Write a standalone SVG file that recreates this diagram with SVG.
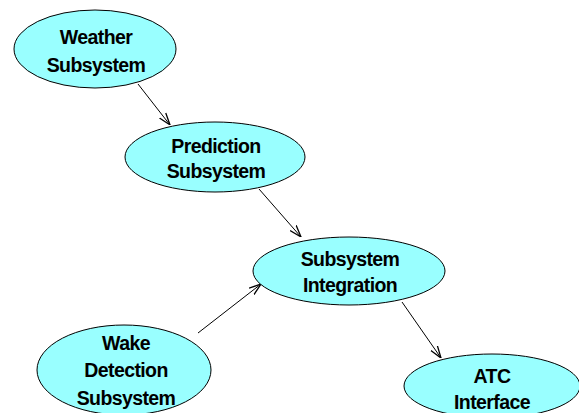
<svg xmlns="http://www.w3.org/2000/svg" width="579" height="413" viewBox="0 0 579 413">
<style>
.n ellipse{fill:#99ffff;stroke:#000;stroke-width:1}
.n text{font-family:"Liberation Sans",Arial,sans-serif;font-weight:bold;font-size:19.5px;text-anchor:middle;fill:#000;letter-spacing:-0.6px}
.c line{stroke:#000;stroke-width:1;marker-end:url(#ah)}
</style>
<defs>
<marker id="ah" markerWidth="12" markerHeight="10" refX="12" refY="5" orient="auto" markerUnits="userSpaceOnUse">
<path d="M0,1 L12,5 L0,9" fill="none" stroke="#000" stroke-width="1.3"/>
</marker>
</defs>
<rect width="579" height="413" fill="#fff"/>
<g class="c">
<line x1="138" y1="84" x2="170" y2="125"/>
<line x1="259" y1="189" x2="301" y2="237"/>
<line x1="198" y1="333" x2="261" y2="284"/>
<line x1="402" y1="302" x2="441" y2="358"/>
</g>
<g id="weather" class="n">
<ellipse cx="95" cy="49" rx="81" ry="39"/>
<text x="96" y="44">Weather</text>
<text x="96" y="72">Subsystem</text>
</g>
<g id="prediction" class="n">
<ellipse cx="215" cy="157" rx="90" ry="35"/>
<text x="216" y="153">Prediction</text>
<text x="216" y="178">Subsystem</text>
</g>
<g id="integration" class="n">
<ellipse cx="349" cy="271" rx="96" ry="34"/>
<text x="350" y="266">Subsystem</text>
<text x="350" y="292">Integration</text>
</g>
<g id="wake" class="n">
<ellipse cx="124" cy="370" rx="87" ry="45"/>
<text x="126" y="350">Wake</text>
<text x="126" y="377">Detection</text>
<text x="126" y="405">Subsystem</text>
</g>
<g id="atc" class="n">
<ellipse cx="492" cy="386" rx="88" ry="32"/>
<text x="492" y="383">ATC</text>
<text x="492" y="409">Interface</text>
</g>
</svg>
